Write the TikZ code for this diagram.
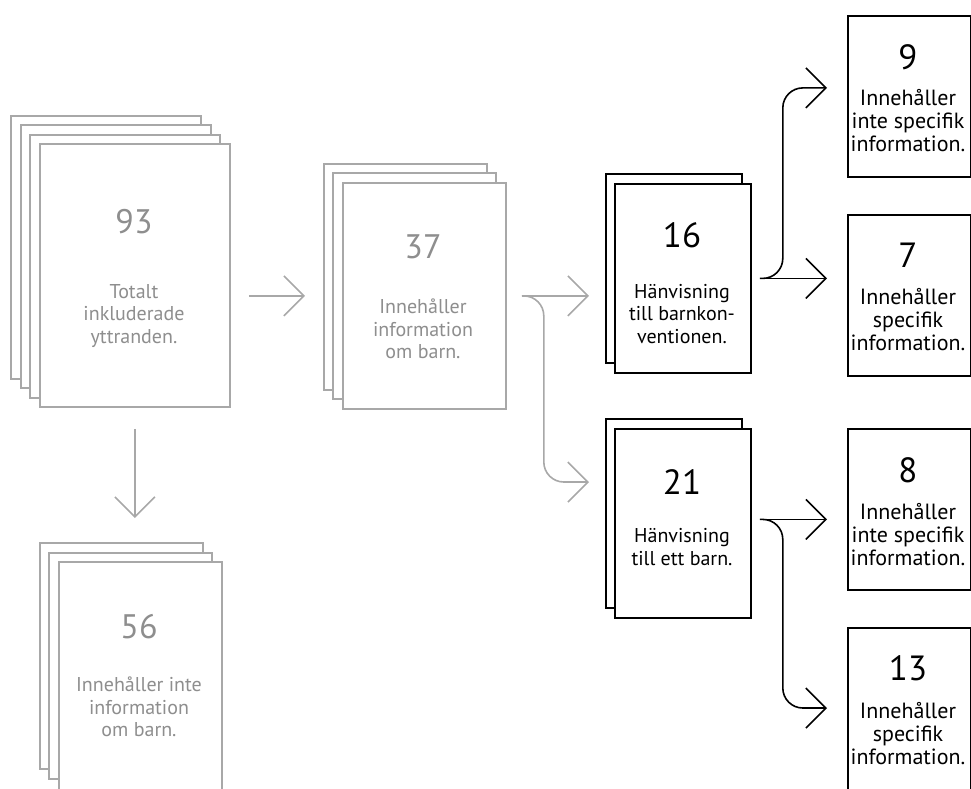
\documentclass[tikz,border=0pt]{standalone}
\usepackage{fontspec}
\setmainfont{PT Sans}
\usetikzlibrary{positioning,arrows.meta}
\definecolor{sheetgrey}{HTML}{A8A8A8}
\definecolor{textgrey}{HTML}{8E8E8E}

\begin{document}
\begin{tikzpicture}[x=1pt, y=-1pt,
greysheet/.style={rectangle, draw=sheetgrey, fill=white, line width=1.8pt, anchor=north west, inner sep=0pt, minimum width=163pt, minimum height=226pt},
bigsheet/.style={greysheet, minimum width=190pt, minimum height=263pt},
blacksheet/.style={rectangle, draw=black, fill=white, line width=1.8pt, anchor=north west, inner sep=0pt, minimum width=136pt, minimum height=189pt},
resultbox/.style={rectangle, draw=black, fill=white, line width=1.8pt, anchor=north west, inner sep=0pt, minimum width=123pt, minimum height=161pt},
greynum/.style={text=textgrey, inner sep=0pt, font=\fontsize{34}{40}\selectfont},
greytext/.style={text=textgrey, inner sep=0pt, align=center, font=\fontsize{20}{22.5}\selectfont},
blacknum/.style={text=black, inner sep=0pt, font=\fontsize{35}{40}\selectfont},
blacktext/.style={text=black, inner sep=0pt, align=center, font=\fontsize{20}{22.5}\selectfont},
resulttext/.style={blacktext, font=\fontsize{22}{23}\selectfont},
greyarrow/.style={draw=sheetgrey, line width=1.6pt, rounded corners=20pt, -{Straight Barb[length=20pt, width=40pt]}},
blackarrow/.style={draw=black, line width=1.6pt, rounded corners=20pt, -{Straight Barb[length=20pt, width=40pt]}},
]
\useasboundingbox (0,0) rectangle (971,788);
\clip (0,0) rectangle (971,788);

%Sheets
\node[bigsheet]   (t93a) at (10,115)  {};
\node[bigsheet]   (t93b) at (20,124)  {};
\node[bigsheet]   (t93c) at (29,134)  {};
\node[bigsheet]   (t93)  at (39,143)  {};
\node[greysheet]  (t37a) at (323,163) {};
\node[greysheet]  (t37b) at (332,172) {};
\node[greysheet]  (t37)  at (342,182) {};
\node[greysheet]  (t56a) at (39,542)  {};
\node[greysheet]  (t56b) at (48,552)  {};
\node[greysheet, minimum height=240pt] (t56) at (58,561) {};
\node[blacksheet] (h16a) at (605,173) {};
\node[blacksheet] (h16)  at (614,183) {};
\node[blacksheet] (h21a) at (605,418) {};
\node[blacksheet] (h21)  at (614,428) {};
\node[resultbox]  (r9)   at (847,15)  {};
\node[resultbox]  (r7)   at (847,214) {};
\node[resultbox]  (r8)   at (847,428) {};
\node[resultbox, minimum height=175pt] (r13) at (847,627) {};

%Texts
\node[greynum]    (n93) at (134,222) {93};
\node[greytext]   (d93) at (134,316) {Totalt\\inkluderade\\yttranden.};
\node[greynum]    (n37) at (423,247) {37};
\node[greytext]   (d37) at (423,329) {Innehåller\\information\\om barn.};
\node[greynum]    (n56) at (139,627) {56};
\node[greytext]   (d56) at (139,707) {Innehåller inte\\information\\om barn.};
\node[blacknum]   (n16) at (682,235) {16};
\node[blacktext]  (d16) at (682,314) {Hänvisning\\till barnkon-\\ventionen.};
\node[blacknum]   (n21) at (682,482) {21};
\node[blacktext]  (d21) at (682,547) {Hänvisning\\till ett barn.};
\node[blacknum]   (n9)  at (908,57)  {9};
\node[resulttext] (d9)  at (908,121) {Innehåller\\inte specifik\\information.};
\node[blacknum]   (n7)  at (908,255) {7};
\node[resulttext] (d7)  at (908,320) {Innehåller\\specifik\\information.};
\node[blacknum]   (n8)  at (908,470) {8};
\node[resulttext] (d8)  at (908,535) {Innehåller\\inte specifik\\information.};
\node[blacknum]   (n13) at (908,668) {13};
\node[resulttext] (d13) at (908,734) {Innehåller\\specifik\\information.};

%Lines
\coordinate (o21) at ([yshift=4pt]h21.east);
\draw[greyarrow, shorten <=18pt, shorten >=18pt] (t93.east |- t37.west) -- (t37a.west |- t37.west);
\draw[greyarrow, shorten <=21pt, shorten >=24pt] (t93.south) -- (t93.south |- t56a.north);
\draw[greyarrow, shorten <=15pt, shorten >=16pt] (t37.east) -- (t37.east -| h16a.west);
\draw[greyarrow, shorten <=15pt, shorten >=16pt] (t37.east) -- ++(37,0) |- (h21a.west |- n21);
\draw[blackarrow, shorten <=8pt, shorten >=20pt] (h16.east) -- (h16.east -| r7.west);
\draw[blackarrow, shorten <=8pt, shorten >=20pt] (h16.east) -- ++(31,0) |- ([yshift=8.5pt]r9.west);
\draw[blackarrow, shorten <=8pt, shorten >=20pt] (o21) -- (o21 -| r8.west);
\draw[blackarrow, shorten <=8pt, shorten >=20pt] (o21) -- ++(31,0) |- (r13.north west |- 0,708);

\end{tikzpicture}
\end{document}
